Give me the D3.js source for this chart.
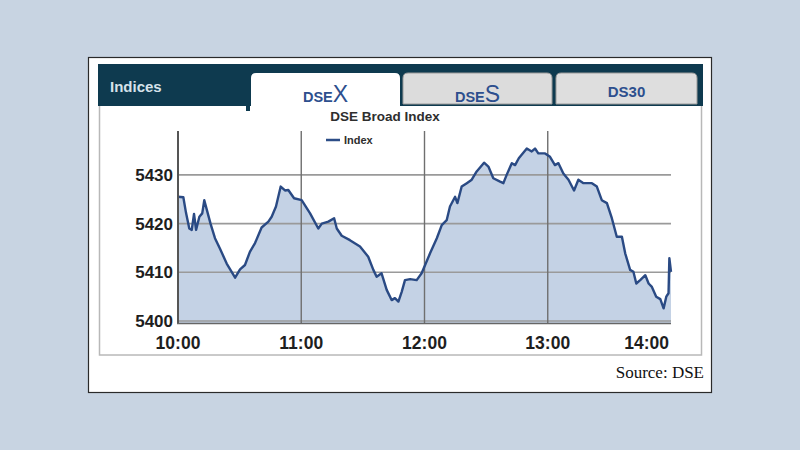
<!DOCTYPE html>
<html><head><meta charset="utf-8">
<script src="https://cdn.jsdelivr.net/npm/d3@7"></script>
<style>
html,body{margin:0;padding:0;background:#c8d4e2;}
svg{display:block;}
</style></head>
<body>
<svg id="chart" width="800" height="450"></svg>
<script>
// ---- data ----
const title = "DSE Broad Index";
const seriesName = "Index";
const tabs = ["DSEX", "DSES", "DS30"];
const sourceText = "Source: DSE";
const yTicks = [5400, 5410, 5420, 5430];
const xTickLabels = ["10:00", "11:00", "12:00", "13:00", "14:00"];
// minutes after 10:00
const minutes = [0,2.6,3.9,5.5,6.7,7.8,8.8,10.4,11.8,12.8,14.3,15.9,18,20.4,23.7,27.8,30.2,32.6,35,37.5,
 40.7,44,45.6,47.7,50,52.1,53.7,56.5,60.2,64.3,68.3,70,73.2,76,77.3,79.7,83.7,88.6,92.6,95.1,
 96.7,99.1,101.6,104,105.6,107.3,108.9,110.5,113,116.2,118.6,120.3,122.7,126,128.4,130.8,132.4,134.9,136,138.1,
 140.6,143,145.4,149,151.1,153.5,156.8,158.4,160,162.5,164.1,165.9,169.8,172.2,173.8,175.4,178.7,181.1,183.5,185.2,
 187.6,190.1,192.8,194.9,197.4,201.5,203.9,206.3,208.8,211.2,213.6,216.1,217.7,220.1,221.7,223.1,225,227.5,229.1,230.7,
 232.8,234.8,236.4,237.7,238.8,239.2,240];
const values = [5425.5,5425.4,5422.2,5419.0,5418.7,5422,5418.7,5421.4,5422.1,5424.8,5422.4,5419.9,5417,5414.9,5411.8,5408.9,5410.6,5411.5,5414.2,5416,
 5419.2,5420.4,5421.4,5423.5,5427.6,5426.8,5426.9,5425.2,5424.8,5422.1,5419,5420,5420.4,5421.1,5419,5417.5,5416.6,5415.3,5413.2,5410.5,
 5409.1,5409.8,5406.4,5404.3,5404.7,5404,5406,5408.4,5408.6,5408.4,5409.8,5411.5,5413.9,5417,5419.7,5420.7,5423.5,5425.5,5424.2,5427.6,
 5428.3,5429,5430.7,5432.5,5431.7,5429.3,5428.6,5428.3,5430,5432.4,5432,5433.4,5435.4,5434.8,5435.4,5434.4,5434.4,5433.7,5432,5432.4,
 5430.3,5429,5426.8,5429,5428.3,5428.3,5427.6,5424.8,5424.2,5421.1,5417.3,5417.3,5413.9,5410.5,5410.1,5407.7,5408.4,5409.4,5407.7,5407,
 5405,5404.5,5402.6,5405,5405.7,5412.9,5410.1];

// ---- layout ----
const svg = d3.select("#chart");
const font = "'Liberation Sans', Arial, sans-serif";
const base = new Date(2000, 0, 1, 10, 0, 0);
const toDate = m => new Date(base.getTime() + m * 60000);
const data = minutes.map((m, i) => ({t: toDate(m), v: values[i]}));

// outer white panel
svg.append("rect").attr("x", 88.5).attr("y", 57.5).attr("width", 623).attr("height", 335)
  .attr("fill", "#fff").attr("stroke", "#2a2a2a").attr("stroke-width", 1.2);

// inner content box
svg.append("rect").attr("x", 99.5).attr("y", 100).attr("width", 602).attr("height", 255)
  .attr("fill", "#fff").attr("stroke", "#b8b8b8").attr("stroke-width", 1.5);

// header bar
svg.append("rect").attr("x", 98).attr("y", 64).attr("width", 605).attr("height", 42).attr("fill", "#0e3a4f");
svg.append("rect").attr("x", 246).attr("y", 104).attr("width", 4).attr("height", 7).attr("fill", "#0e3a4f");
svg.append("text").attr("x", 110).attr("y", 92).text("Indices")
  .attr("font-family", font).attr("font-size", 15).attr("font-weight", "bold").attr("fill", "#d6e2ea");

function tabPath(x, y, w, h, r) {
  return `M${x},${y+h} L${x},${y+r} Q${x},${y} ${x+r},${y} L${x+w-r},${y} Q${x+w},${y} ${x+w},${y+r} L${x+w},${y+h} Z`;
}
const tabDefs = [
  {x: 251, w: 149, h: 38, fill: "#ffffff", stroke: "none"},
  {x: 403, w: 149, h: 31, fill: "#dcdcdc", stroke: "#9a9a9a"},
  {x: 556, w: 141, h: 31, fill: "#dedede", stroke: "#9a9a9a"}
];
tabDefs.forEach((t, i) => {
  svg.append("path").attr("d", tabPath(t.x, 73, t.w, t.h, 5)).attr("fill", t.fill)
    .attr("stroke", t.stroke).attr("stroke-width", 1);
  const cx = t.x + t.w / 2;
  const label = tabs[i];
  const txt = svg.append("text").attr("x", cx).attr("y", i === 2 ? 97 : 102).attr("text-anchor", "middle")
    .attr("font-family", font).attr("fill", "#2d4f8e");
  if (i < 2) {
    txt.append("tspan").attr("font-size", 14.5).attr("font-weight", "bold").text(label.slice(0, 3));
    txt.append("tspan").attr("font-size", 23).text(label.slice(3));
  } else {
    txt.attr("font-size", 15).attr("font-weight", "bold").text(label);
  }
});

// ---- chart ----
const x = d3.scaleTime().domain([toDate(0), toDate(240)]).range([178, 671]);
const y = d3.scaleLinear().domain([5399.6, 5439]).range([323, 131]);

const g = svg.append("g");

// area
g.append("path").datum(data)
  .attr("d", d3.area().x(d => x(d.t)).y0(y(5399.6)).y1(d => y(d.v)))
  .attr("fill", "#c4d2e5");

// horizontal grid
g.selectAll("line.hg").data(yTicks).join("line")
  .attr("x1", x.range()[0]).attr("x2", x.range()[1])
  .attr("y1", d => y(d)).attr("y2", d => y(d))
  .attr("stroke", "#9a9a9a").attr("stroke-width", 1.6);

// vertical grid at inner hours
const hourTicks = xTickLabels.map((s, i) => toDate(i * 60));
g.selectAll("line.vg").data(hourTicks.slice(1, 4)).join("line")
  .attr("x1", d => x(d)).attr("x2", d => x(d))
  .attr("y1", 131).attr("y2", 323)
  .attr("stroke", "#6f6f6f").attr("stroke-width", 1.4);

// line
g.append("path").datum(data)
  .attr("d", d3.line().x(d => x(d.t)).y(d => y(d.v)))
  .attr("fill", "none").attr("stroke", "#2a4a84").attr("stroke-width", 2.4).attr("stroke-linejoin", "round");

// axes lines
g.append("line").attr("x1", 178).attr("x2", 178).attr("y1", 131).attr("y2", 324)
  .attr("stroke", "#555").attr("stroke-width", 2);
g.append("line").attr("x1", 177).attr("x2", 671).attr("y1", 323.5).attr("y2", 323.5)
  .attr("stroke", "#666").attr("stroke-width", 1.5);

// y labels
g.selectAll("text.yl").data(yTicks).join("text")
  .attr("x", 173).attr("y", d => y(d) + 6).attr("text-anchor", "end")
  .attr("font-family", font).attr("font-size", 17).attr("font-weight", "bold").attr("fill", "#1e1e1e")
  .text(d => d);

// x labels
g.selectAll("text.xl").data(hourTicks).join("text")
  .attr("x", (d, i) => i === 4 ? x(d) - 2 : x(d))
  .attr("y", 349)
  .attr("text-anchor", (d, i) => i === 4 ? "end" : "middle")
  .attr("font-family", font).attr("font-size", 17.5).attr("font-weight", "bold").attr("fill", "#1e1e1e")
  .text((d, i) => xTickLabels[i]);

// title & legend
svg.append("text").attr("x", 385).attr("y", 121).attr("text-anchor", "middle")
  .attr("font-family", font).attr("font-size", 13.5).attr("font-weight", "bold").attr("fill", "#2e2e2e")
  .text(title);
svg.append("line").attr("x1", 326).attr("x2", 340).attr("y1", 140).attr("y2", 140)
  .attr("stroke", "#2c4d87").attr("stroke-width", 2.5);
svg.append("text").attr("x", 344).attr("y", 144)
  .attr("font-family", font).attr("font-size", 11).attr("font-weight", "bold").attr("fill", "#2e2e2e")
  .text(seriesName);

// source
svg.append("text").attr("x", 704).attr("y", 378).attr("text-anchor", "end")
  .attr("font-family", "'Liberation Serif', 'DejaVu Serif', serif").attr("font-size", 17).attr("fill", "#111")
  .text(sourceText);
</script>
</body></html>
